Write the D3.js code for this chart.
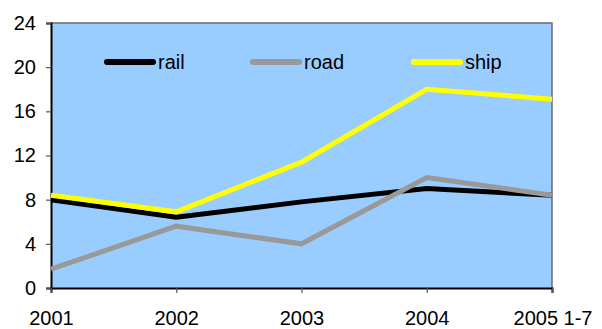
<!DOCTYPE html>
<html><head><meta charset="utf-8">
<script src="https://cdn.jsdelivr.net/npm/d3@7"></script>
<style>body{margin:0;background:#fff}svg{display:block}text{font-family:"Liberation Sans",Arial,sans-serif;font-size:20px;fill:#000}</style>
</head><body>
<svg id="c" width="602" height="329"></svg>
<script>
const categories = ["2001","2002","2003","2004","2005 1-7"];
const rail = [8.0, 6.4, 7.8, 9.0, 8.4];
const road = [1.7, 5.6, 4.0, 10.0, 8.4];
const ship = [8.4, 6.9, 11.4, 18.0, 17.1];
const yTicks = [0,4,8,12,16,20,24];
const seriesNames = ["rail","road","ship"];
const seriesColors = ["#000000","#999999","#FFFF00"];

const svg = d3.select("#c");
const L=51, R=552, T=23, B=288;
const x = d3.scalePoint().domain(categories).range([L,R]);
const y = d3.scaleLinear().domain([0,24]).range([B,T]);

svg.append("rect").attr("x",L).attr("y",T).attr("width",R-L).attr("height",B-T).attr("fill","#99CCFF");
svg.append("path").attr("d",`M${L},${T}H${R}V${B}`).attr("fill","none").attr("stroke","#6b6b6b").attr("stroke-width",1.5);

const yAxis = svg.append("g").attr("transform",`translate(${L},0)`).call(d3.axisLeft(y).tickValues(yTicks).tickSize(5).tickPadding(10));
const xAxis = svg.append("g").attr("transform",`translate(0,${B})`).call(d3.axisBottom(x).tickSize(5).tickPadding(18));
[yAxis,xAxis].forEach(a=>{a.selectAll("text").style("font-size","20px").attr("fill","#000");a.select(".domain").attr("stroke","#000").attr("stroke-width",2);a.selectAll(".tick line").attr("stroke","#555").attr("stroke-width",1.2);a.attr("font-family",null).attr("font-size",null);});
xAxis.selectAll(".tick text").attr("dy","0.71em");
xAxis.selectAll(".tick").filter((d,i)=>i===categories.length-1).select("text").attr("text-anchor","end").attr("dx","40");
xAxis.selectAll(".tick").filter((d,i)=>i===0).select("text").attr("dx","0");

const data = [rail, road, ship];
const line = d3.line().x((d,i)=>x(categories[i])).y(d=>y(d));
data.forEach((s,k)=>{
  svg.append("path").datum(s).attr("d",line).attr("fill","none").attr("stroke",seriesColors[k]).attr("stroke-width",5).attr("stroke-linejoin","miter");
});

const legX = [107,253,414];
seriesNames.forEach((n,k)=>{
  svg.append("line").attr("x1",legX[k]).attr("x2",legX[k]+46).attr("y1",62).attr("y2",62).attr("stroke",seriesColors[k]).attr("stroke-width",6).attr("stroke-linecap","round");
  svg.append("text").attr("x",legX[k]+51).attr("y",69).text(n);
});
</script>
</body></html>
